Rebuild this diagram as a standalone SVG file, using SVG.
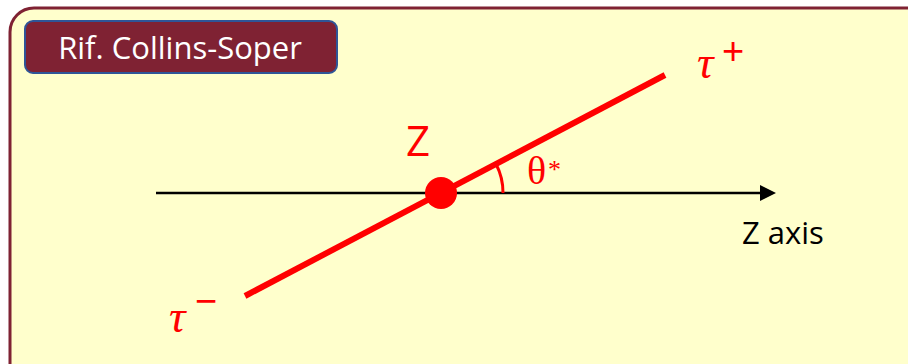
<svg xmlns="http://www.w3.org/2000/svg" width="908" height="364" viewBox="0 0 908 364">
<defs>
<style>
.lbl{font-family:"Open Sans","Noto Sans","Liberation Sans",sans-serif;}
.red{fill:#FF0000;}
.math{font-family:"Liberation Serif","DejaVu Serif",serif;font-style:italic;fill:#FF0000;}
.sym{font-family:"Liberation Sans","DejaVu Sans",sans-serif;fill:#FF0000;}
</style>
</defs>
<rect x="0" y="0" width="908" height="364" fill="#FFFFFF"/>
<g id="frame">
<rect x="10" y="8" width="920" height="380" rx="24" fill="#FFFFCC" stroke="#7F2233" stroke-width="3"/>
</g>
<g id="title">
<rect x="25" y="21" width="312" height="52" rx="8" fill="#7F2233" stroke="#2F5597" stroke-width="2"/>
<text class="lbl" x="180" y="59" font-size="31" fill="#FFFFFF" text-anchor="middle">Rif. Collins-Soper</text>
</g>
<g id="connectors">
<line x1="156" y1="193" x2="762" y2="193" stroke="#000" stroke-width="2.5"/>
<path d="M760,185 L776,193 L760,201 Z" fill="#000"/>
<line x1="245" y1="296" x2="665" y2="75" stroke="#FF0000" stroke-width="6"/>
<path d="M503,193 A62,62 0 0 0 496,164" fill="none" stroke="#FF0000" stroke-width="3"/>
</g>
<g id="Z">
<circle cx="441" cy="193" r="16" fill="#FF0000"/>
<text class="lbl red" x="406" y="156" font-size="42">Z</text>
</g>
<g id="theta">
<text x="527" y="184" font-family="Liberation Serif, serif" font-size="40" fill="#FF0000">θ</text>
<text x="548" y="178" font-family="Liberation Serif, serif" font-size="26" fill="#FF0000">*</text>
</g>
<g id="tauplus">
<text class="math" x="697" y="78" font-size="46">τ</text>
<text class="sym" x="722" y="64" font-size="38">+</text>
</g>
<g id="tauminus">
<text class="math" x="169" y="332" font-size="46">τ</text>
<text class="sym" x="195" y="314" font-size="38">−</text>
</g>
<g id="zaxis">
<text class="lbl" x="742" y="244" font-size="31" fill="#000">Z axis</text>
</g>
</svg>
